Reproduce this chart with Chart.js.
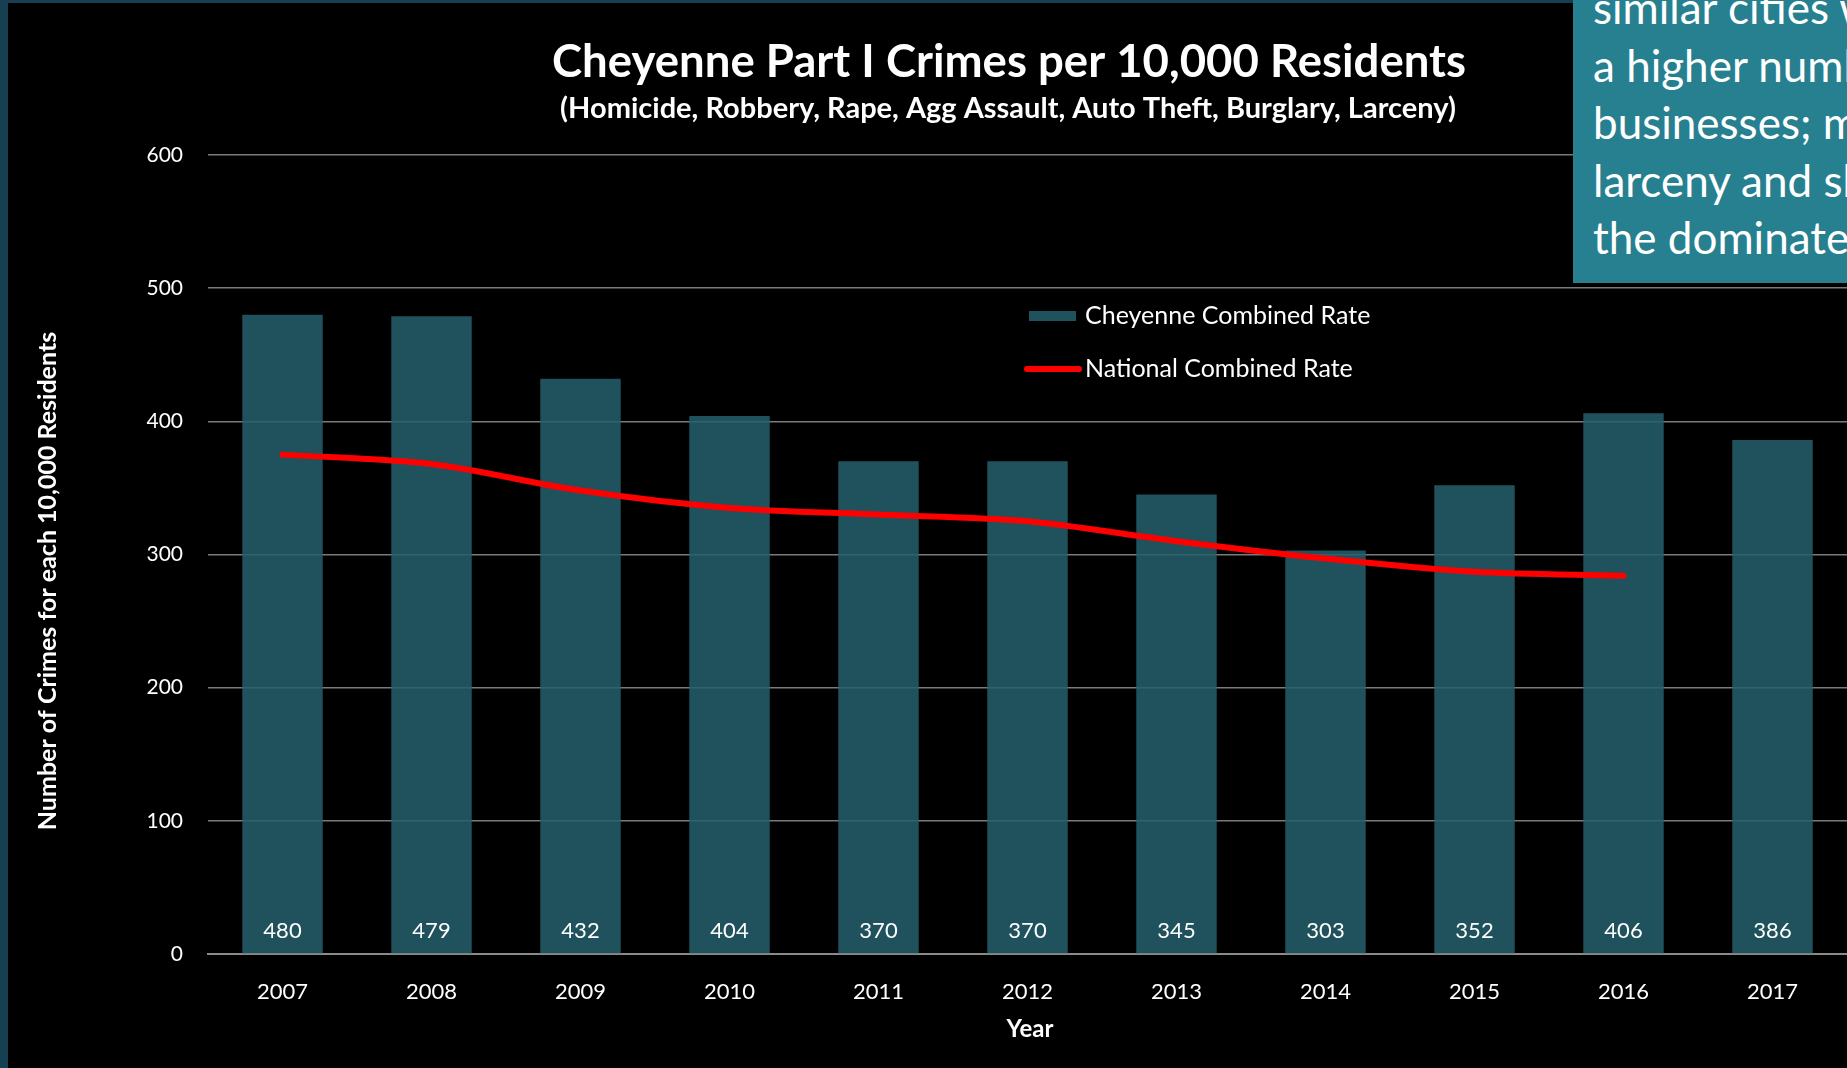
<!DOCTYPE html>
<html>
<head>
<meta charset="utf-8">
<script src="https://cdn.jsdelivr.net/npm/chart.js@4.4.1/dist/chart.umd.min.js"></script>
<style>
  html, body { margin: 0; padding: 0; background: #000; }
  #wrap { position: relative; width: 1847px; height: 1068px; overflow: hidden; background: #000; }
  #edgeLeft { position: absolute; left: 0; top: 0; width: 8px; height: 1068px; background: #163f52; }
  #edgeTop { position: absolute; left: 0; top: 0; width: 1847px; height: 3px; background: #163f52; }
  #note {
    position: absolute; left: 1573px; top: 0; width: 274px; height: 283px;
    background: #27808f; color: #fff; overflow: hidden; white-space: nowrap;
    font-family: Lato, "Open Sans", sans-serif; font-size: 44px; line-height: 57.5px;
  }
  #note div { margin-top: -21px; padding-left: 20px; }
</style>
</head>
<body>
<div id="wrap">
  <canvas id="crimeChart" width="1847" height="1068"></canvas>
  <div id="edgeLeft"></div>
  <div id="edgeTop"></div>
  <div id="note"><div>similar cities w<br>a higher numbe<br>businesses; ma<br>larceny and sh<br>the dominate</div></div>
</div>
<script>
const years = ['2007', '2008', '2009', '2010', '2011', '2012', '2013', '2014', '2015', '2016', '2017'];
const cheyenneRate = [480, 479, 432, 404, 370, 370, 345, 303, 352, 406, 386];
const nationalRate = [375, 368, 348, 335, 330, 325, 310, 297, 287, 284, null];
const yTicks = [0, 100, 200, 300, 400, 500, 600];

const barColor = 'rgba(36, 96, 107, 0.86)';
const lineColor = '#ff0000';
const font = 'Lato, "Open Sans", sans-serif';

// titles, legend and bar value labels
const textPlugin = {
  id: 'textPlugin',
  beforeDraw(chart) {
    const ctx = chart.ctx;
    ctx.save();
    ctx.fillStyle = '#000';
    ctx.fillRect(0, 0, chart.width, chart.height);
    ctx.restore();
  },
  afterDraw(chart) {
    const ctx = chart.ctx;
    const area = chart.chartArea;
    ctx.save();
    ctx.fillStyle = '#fff';
    ctx.textAlign = 'center';
    ctx.textBaseline = 'alphabetic';
    ctx.font = 'bold 46px ' + font;
    ctx.fillText('Cheyenne Part I Crimes per 10,000 Residents', 1009, 77, 914);
    ctx.font = 'bold 29px ' + font;
    ctx.fillText('(Homicide, Robbery, Rape, Agg Assault, Auto Theft, Burglary, Larceny)', 1008, 118, 901);

    // axis titles
    ctx.textBaseline = 'middle';
    ctx.font = 'bold 24px ' + font;
    ctx.fillText('Year', 1030, 1029);
    ctx.save();
    ctx.translate(48, 581);
    ctx.rotate(-Math.PI / 2);
    ctx.font = 'bold 25px ' + font;
    ctx.fillText('Number of Crimes for each 10,000 Residents', 0, 0, 504);
    ctx.restore();

    // value labels inside bars
    const barMeta = chart.getDatasetMeta(1);
    ctx.font = '22px ' + font;
    barMeta.data.forEach((bar, i) => {
      ctx.fillText(String(cheyenneRate[i]), bar.x, area.bottom - 23);
    });

    // legend
    const ds = chart.data.datasets;
    ctx.textAlign = 'left';
    ctx.font = '25px ' + font;
    ctx.fillStyle = ds[1].backgroundColor;
    ctx.fillRect(1029, 311, 47, 10);
    ctx.fillStyle = '#fff';
    ctx.fillText(ds[1].label, 1085, 316);
    ctx.strokeStyle = ds[0].borderColor;
    ctx.lineWidth = 6;
    ctx.lineCap = 'round';
    ctx.beginPath();
    ctx.moveTo(1027, 369);
    ctx.lineTo(1079, 369);
    ctx.stroke();
    ctx.fillText(ds[0].label, 1085, 369);
    ctx.restore();
  }
};

const canvas = document.getElementById('crimeChart');
new Chart(canvas, {
  type: 'bar',
  data: {
    labels: years,
    datasets: [
      {
        type: 'line',
        label: 'National Combined Rate',
        data: nationalRate,
        borderColor: lineColor,
        borderWidth: 6,
        borderCapStyle: 'round',
        tension: 0.3,
        pointRadius: 0,
        fill: false,
        order: 0
      },
      {
        type: 'bar',
        label: 'Cheyenne Combined Rate',
        data: cheyenneRate,
        backgroundColor: barColor,
        borderWidth: 0,
        barPercentage: 0.54,
        categoryPercentage: 1,
        order: 1
      }
    ]
  },
  options: {
    responsive: false,
    devicePixelRatio: 1,
    animation: false,
    layout: { padding: { top: 155, left: 0, right: 0, bottom: 0 } },
    plugins: {
      legend: { display: false },
      title: { display: false },
      tooltip: { enabled: false }
    },
    scales: {
      x: {
        grid: { display: false, drawTicks: false },
        border: { display: true, color: '#8a8a8a', width: 2 },
        ticks: { color: '#fff', padding: 25, font: { family: font, size: 22 } },
        afterFit(scale) { scale.height = 114; }
      },
      y: {
        min: 0,
        max: 600,
        afterBuildTicks(scale) { scale.ticks = yTicks.map(v => ({ value: v })); },
        grid: { color: '#7a7a7a', lineWidth: 1.5, drawTicks: false },
        border: { display: false },
        ticks: { color: '#fff', padding: 25, font: { family: font, size: 21 } },
        afterFit(scale) { scale.width = 208; }
      }
    }
  },
  plugins: [textPlugin]
});
</script>
</body>
</html>
